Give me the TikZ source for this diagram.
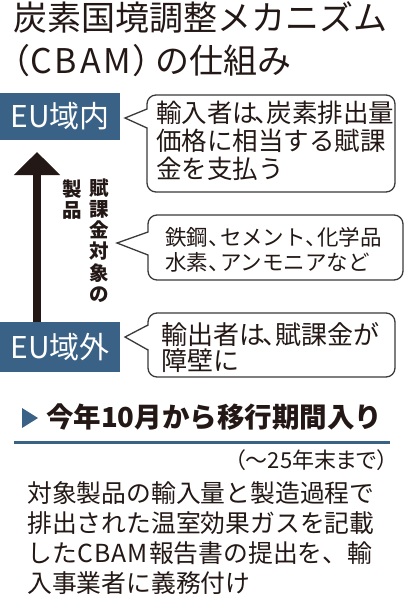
\documentclass[tikz,border=0pt]{standalone}
\usepackage{fontspec}
\setmainfont{Noto Sans CJK JP}
\newfontfamily\jpp[RawFeature=+palt]{Noto Sans CJK JP}
\usetikzlibrary{arrows.meta}
\definecolor{ink}{HTML}{231815}
\definecolor{eublue}{HTML}{3A6186}
\definecolor{bubgray}{HTML}{3A3A3A}
\tikzset{
  eubox/.style={fill=eublue, text=white, minimum width=120pt, inner sep=0pt,
    font=\fontsize{30}{30}\selectfont},
  bubble/.style={draw=bubgray, line width=1.3pt, rounded corners=9pt, fill=white, inner sep=0pt},
  bubtext/.style={anchor=west, inner sep=0pt, align=left, text=ink},
  ptr/.style={draw=bubgray, line width=1.3pt, line join=miter},
  ptrfill/.style={fill=white},
  plain/.style={inner sep=0pt, text=ink},
}
\begin{document}
\begin{tikzpicture}[x=1pt,y=-1pt]
\useasboundingbox[fill=white] (0,0) rectangle (405,600);

% title
\node[plain, anchor=west, font=\fontsize{34}{34}\selectfont] (title1) at (13,18) {炭素国境調整メカニズム};
\node[plain, anchor=west, font=\fontsize{34}{34}\selectfont, inner xsep=1pt] (title2a) at (11,61)
  {{\jpp（}\kern1pt C\kern3pt B\kern3pt A\kern3pt M\kern1pt ）};
\node[plain, anchor=west, font=\fontsize{34}{34}\selectfont] (title2b) at ([xshift=-12pt]title2a.east)
  {の仕組み};

% EU boxes
\node[eubox, minimum height=47pt] (inbox) at (60,116.5) {EU域内};
\node[eubox, minimum height=50pt] (outbox) at (60,347) {EU域外};

% arrow
\coordinate (atip) at (37,152);
\draw[ink, line width=7.5pt, -{Triangle[width=45pt,length=23pt]}] (outbox.north -| atip) -- (atip);

% vertical label
\node[plain, anchor=north, align=center, font=\bfseries\fontsize{19.5}{21.2}\selectfont] (vt1) at (99,178.5)
  {賦\\課\\金\\対\\象\\の};
\node[plain, anchor=north, align=center, font=\bfseries\fontsize{19.5}{21.2}\selectfont] (vt2) at (72,179.5)
  {製\\品};

% bubble 1
\node[bubble, minimum width=248pt, minimum height=97pt] (b1) at (271,143.5) {};
\coordinate (p1t) at (125,118);
\coordinate (p1a) at (147,109);
\coordinate (p1b) at (147,128);
\fill[ptrfill] ([xshift=2pt]p1a) -- (p1t) -- ([xshift=2pt]p1b) -- cycle;
\draw[ptr] (p1a) -- (p1t) -- (p1b);
\node[bubtext, font=\fontsize{25.5}{28}\selectfont] (t1) at (156,140.5)
  {輸入者は\kern-4pt、\kern-13pt 炭素排出量\\価格に相当する賦課\\金を支払う};

% bubble 2
\node[bubble, minimum width=255pt, minimum height=65pt] (b2) at (275.5,247.5) {};
\coordinate (p2t) at (117,243);
\coordinate (p2a) at (148,232);
\coordinate (p2b) at (148,255);
\fill[ptrfill] ([xshift=2pt]p2a) -- (p2t) -- ([xshift=2pt]p2b) -- cycle;
\draw[ptr] (p2a) -- (p2t) -- (p2b);
\node[bubtext, font=\fontsize{21.5}{25}\selectfont] (t2) at (165,249.5)
  {鉄鋼、\kern-0.45em セメント、\kern-0.45em 化学品\\水素、\kern-0.45em アンモニアなど};

% bubble 3
\node[bubble, minimum width=247pt, minimum height=64pt] (b3) at (271.5,345) {};
\coordinate (p3t) at (125,337);
\coordinate (p3a) at (148,325);
\coordinate (p3b) at (148,350);
\fill[ptrfill] ([xshift=2pt]p3a) -- (p3t) -- ([xshift=2pt]p3b) -- cycle;
\draw[ptr] (p3a) -- (p3t) -- (p3b);
\node[bubtext, font=\fontsize{26}{26}\selectfont] (t3) at (161,348)
  {輸出者は\kern-3pt、\kern-13pt 賦課金が\\障壁に};

% heading
\fill[eublue] (22,408) -- (38,418) -- (22,428) -- cycle;
\node[plain, anchor=west, font=\bfseries\fontsize{27.5}{27.5}\selectfont] (head) at (46,417)
  {今年10月から移行期間入り};
\coordinate (r1) at (14,442);
\coordinate (r2) at (390,442);
\draw[eublue, line width=3pt] (r1) -- (r2);

\node[plain, anchor=east, font=\jpp\fontsize{22}{22}\selectfont] (period) at (388,460) {（〜25年末まで）};

% body
\node[plain, anchor=west, align=left, font=\fontsize{24.8}{30}\selectfont] (body) at (27,538)
  {対象製品の輸入量と製造過程で\\排出された温室効果ガスを記載\\した\kern1pt C\kern1pt B\kern1pt A\kern1pt M\kern1pt 報告書の提出を、輸\\入事業者に義務付け};
\end{tikzpicture}
\end{document}
